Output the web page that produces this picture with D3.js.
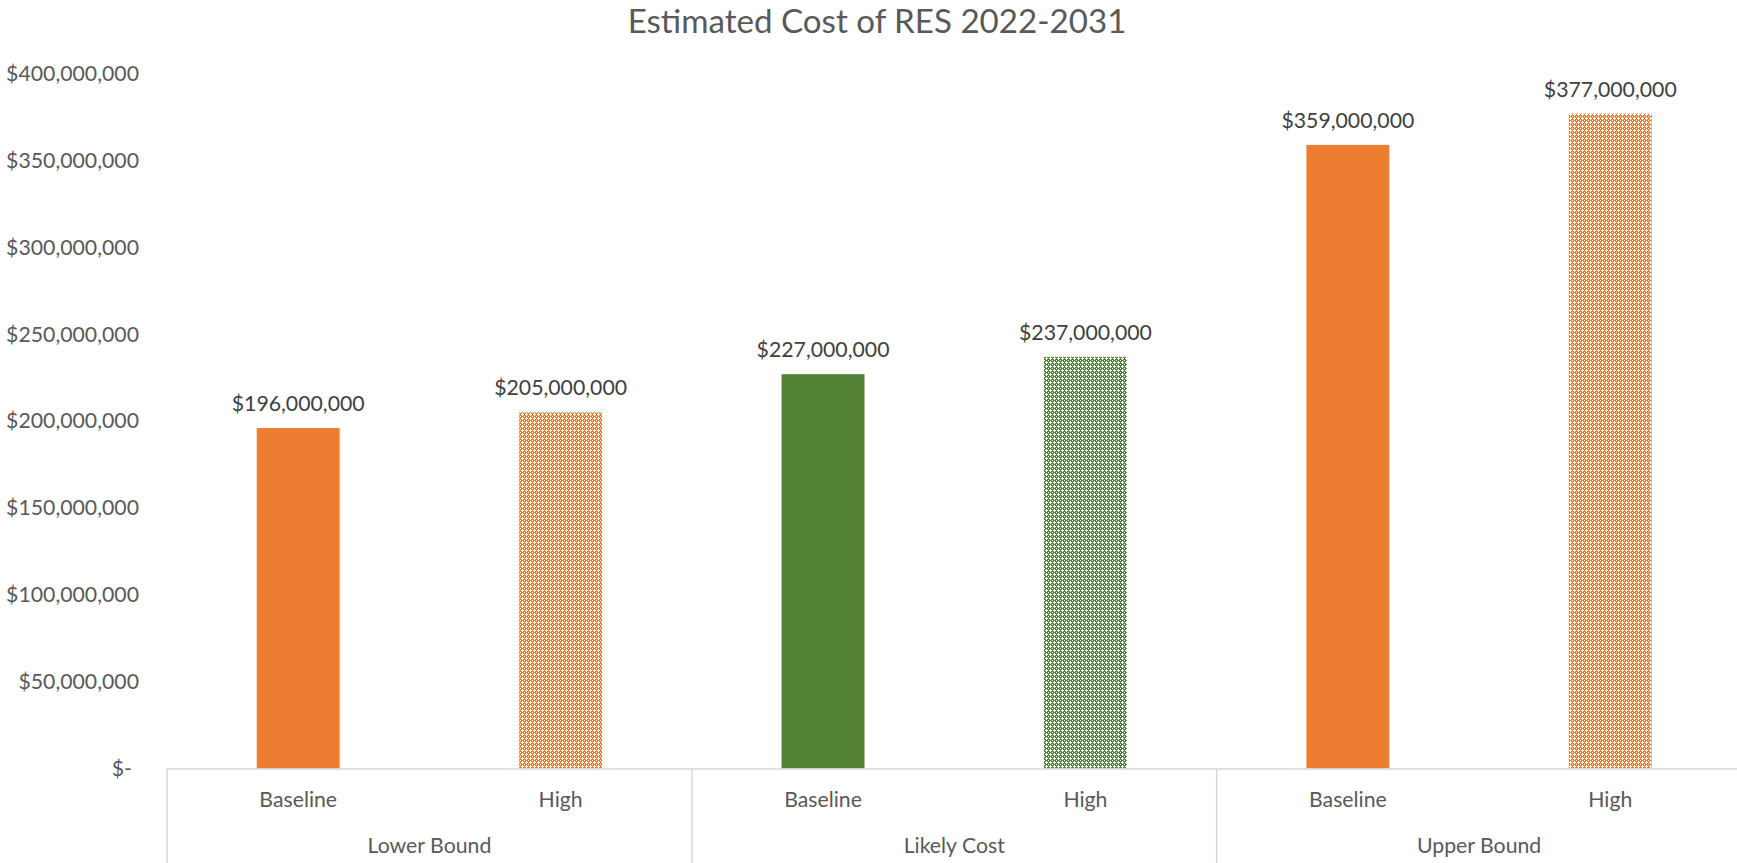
<!DOCTYPE html>
<html>
<head>
<meta charset="utf-8">
<script src="https://cdn.jsdelivr.net/npm/d3@7"></script>
<style>
  html, body { margin: 0; padding: 0; background: #ffffff; }
  svg { display: block; }
</style>
</head>
<body>
<svg id="chart" width="1737" height="863"></svg>
<script>
// ---- data ----
const groups = ["Lower Bound", "Likely Cost", "Upper Bound"];
const scenarios = ["Baseline", "High"];
const baselineValues = [196000000, 227000000, 359000000];
const highValues = [205000000, 237000000, 377000000];
const groupColors = ["#ED7D31", "#548235", "#ED7D31"];
const yTickValues = [0, 50000000, 100000000, 150000000, 200000000, 250000000, 300000000, 350000000, 400000000];
const titleText = "Estimated Cost of RES 2022-2031";

const FONT = "Lato, 'Open Sans', sans-serif";
const W = 1737, H = 863;
const plotLeft = 167, plotRight = 1741.5, plotTop = 73.7, plotBottom = 768.5;

const svg = d3.select("#chart");

// fit a font size so a sample string has the target width
function fitSize(sample, target, base) {
  const t = svg.append("text").attr("font-family", FONT).attr("font-size", base).text(sample);
  const w = t.node().getComputedTextLength();
  t.remove();
  return base * target / w;
}
const labelSize = fitSize("$400,000,000", 133, 20);
const titleSize = fitSize(titleText, 499, 30);

// rows
const rows = [];
groups.forEach((g, i) => {
  rows.push({ group: g, scenario: scenarios[0], value: baselineValues[i], color: groupColors[i], gi: i });
  rows.push({ group: g, scenario: scenarios[1], value: highValues[i], color: groupColors[i], gi: i });
});

// scales
const x0 = d3.scaleBand().domain(groups).range([plotLeft, plotRight]).padding(0);
const x1 = d3.scaleBand().domain(scenarios).range([0, x0.bandwidth()]).paddingInner(0.684).paddingOuter(0.342);
const y = d3.scaleLinear().domain([0, 400000000]).range([plotBottom, plotTop]);

// patterns
const defs = svg.append("defs");
groupColors.forEach((c, i) => {
  const p = defs.append("pattern").attr("id", "pat" + i)
    .attr("patternUnits", "userSpaceOnUse").attr("width", 4).attr("height", 4);
  p.append("rect").attr("width", 4).attr("height", 4).attr("fill", c);
  [[2,1],[1,2],[2,2],[3,2],[2,3],[0,0]].forEach(([px, py]) => {
    p.append("rect").attr("x", px).attr("y", py).attr("width", 1).attr("height", 1).attr("fill", "#ffffff");
  });
});

// title
svg.append("text")
  .attr("x", 877).attr("y", 33)
  .attr("text-anchor", "middle")
  .attr("font-family", FONT).attr("font-size", titleSize)
  .attr("fill", "#595959")
  .text(titleText);

// y axis labels
const yAxis = d3.axisLeft(y).tickValues(yTickValues).tickSize(0).tickPadding(0)
  .tickFormat(v => v === 0 ? "$-" : "$" + d3.format(",")(v));
const yg = svg.append("g").attr("transform", "translate(139,0)").call(yAxis);
yg.select(".domain").remove();
yg.selectAll("text")
  .attr("font-family", FONT).attr("font-size", labelSize)
  .attr("fill", "#595959")
  .attr("dx", d => d === 0 ? -7 : 0);

// bars
svg.append("g").selectAll("rect").data(rows).join("rect")
  .attr("x", d => x0(d.group) + x1(d.scenario))
  .attr("y", d => y(d.value))
  .attr("width", x1.bandwidth())
  .attr("height", d => y(0) - y(d.value))
  .attr("fill", d => d.scenario === "High" ? "url(#pat" + d.gi + ")" : d.color);

// data labels
svg.append("g").selectAll("text").data(rows).join("text")
  .attr("x", d => x0(d.group) + x1(d.scenario) + x1.bandwidth() / 2)
  .attr("y", d => y(d.value) - 17)
  .attr("text-anchor", "middle")
  .attr("font-family", FONT).attr("font-size", labelSize)
  .attr("fill", "#404040")
  .text(d => "$" + d3.format(",")(d.value));

// category axis
const axisG = svg.append("g");
axisG.append("line")
  .attr("x1", plotLeft).attr("x2", W)
  .attr("y1", 769).attr("y2", 769)
  .attr("stroke", "#d9d9d9").attr("stroke-width", 1.6);
groups.forEach(g => {
  const xx = x0(g);
  axisG.append("line")
    .attr("x1", xx).attr("x2", xx)
    .attr("y1", 769).attr("y2", H)
    .attr("stroke", "#d9d9d9").attr("stroke-width", 1.6);
});
axisG.selectAll("text.sc").data(rows).join("text").attr("class", "sc")
  .attr("x", d => x0(d.group) + x1(d.scenario) + x1.bandwidth() / 2)
  .attr("y", 800).attr("dy", "0.35em")
  .attr("text-anchor", "middle")
  .attr("font-family", FONT).attr("font-size", labelSize)
  .attr("fill", "#595959")
  .text(d => d.scenario);
axisG.selectAll("text.gr").data(groups).join("text").attr("class", "gr")
  .attr("x", d => x0(d) + x0.bandwidth() / 2)
  .attr("y", 846).attr("dy", "0.35em")
  .attr("text-anchor", "middle")
  .attr("font-family", FONT).attr("font-size", labelSize)
  .attr("fill", "#595959")
  .text(d => d);
</script>
</body>
</html>
